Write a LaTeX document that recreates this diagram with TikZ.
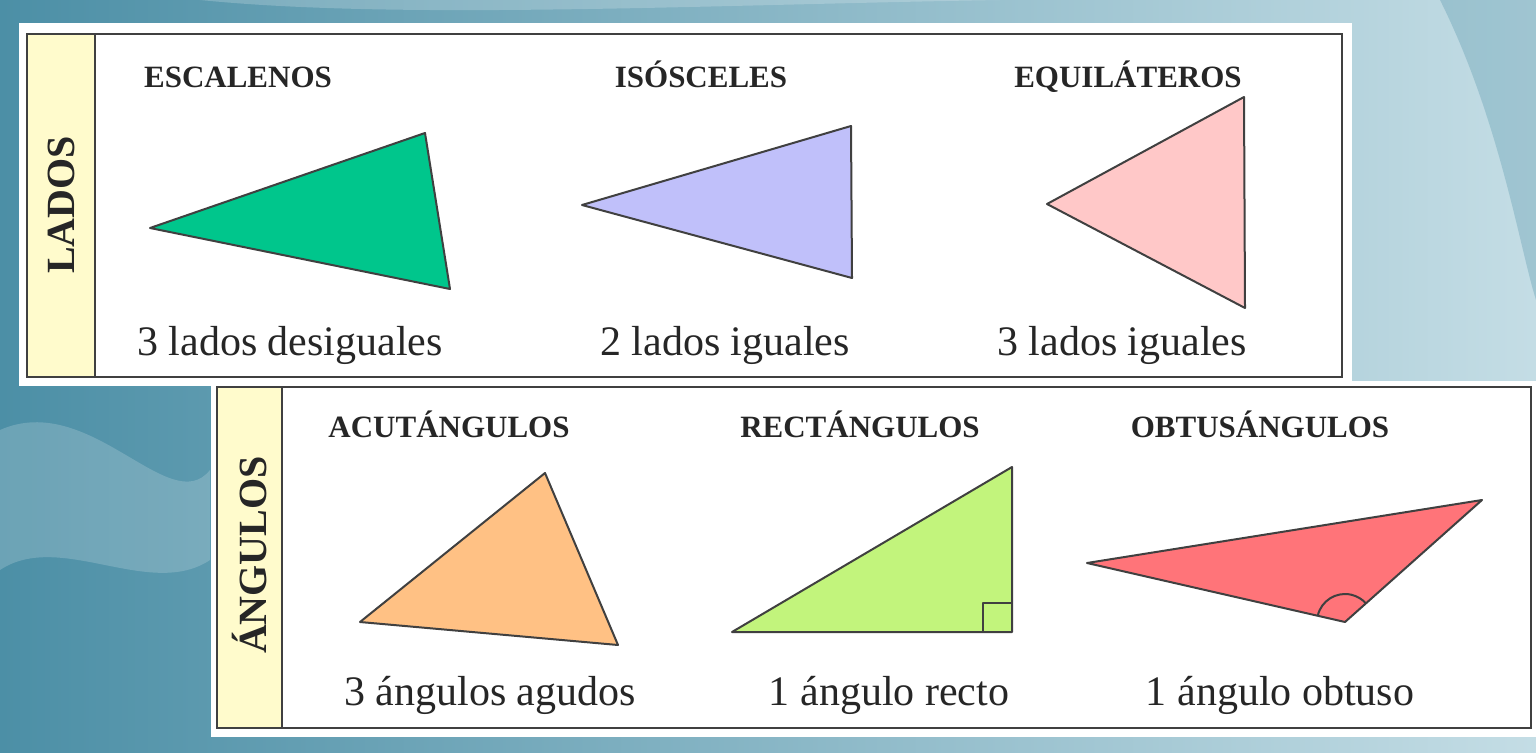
\documentclass[tikz,border=0pt]{standalone}
\usepackage{fontspec}
\setmainfont{Liberation Serif}
\definecolor{bgdark}{HTML}{4C8FA6}
\definecolor{bgmid}{HTML}{8DBFCD}
\definecolor{bglight}{HTML}{C4DDE5}
\definecolor{sidebar}{HTML}{FFFBCC}
\definecolor{escgreen}{HTML}{00C68C}
\definecolor{isolila}{HTML}{C0C0FA}
\definecolor{equipink}{HTML}{FFC8C8}
\definecolor{acuorange}{HTML}{FFC184}
\definecolor{rectgreen}{HTML}{C2F47C}
\definecolor{obtred}{HTML}{FF7479}

\begin{document}
\begin{tikzpicture}[x=1pt,y=-1pt,
  head/.style={font=\bfseries\fontsize{31}{31}\selectfont, text=black!85, inner sep=0pt, anchor=base},
  caption/.style={font=\fontsize{42}{42}\selectfont, text=black!85, inner sep=0pt, anchor=base},
  side/.style={font=\bfseries\fontsize{40}{40}\selectfont, text=black!85, inner sep=0pt, rotate=90},
  frame/.style={draw=black!75, line width=2.5pt},
  tri/.style={draw=black!75, line width=2pt, line join=round}]
\useasboundingbox (0,0) rectangle (1536,752);

% background
\shade[left color=bgdark, middle color=bgmid, right color=bglight] (0,0) rectangle (1536,752);
\fill[white, opacity=.18] (0,430) .. controls (90,390) and (170,520) .. (210,470) -- (210,560) .. controls (150,600) and (60,530) .. (0,570) -- cycle;
\fill[white, opacity=.2] (200,0) .. controls (400,20) and (700,5) .. (1000,0) -- cycle;
\fill[bgdark, opacity=.3] (1440,0) .. controls (1500,120) and (1520,250) .. (1536,300) -- (1536,0) -- cycle;

% top panel: lados
\fill[white] (19,23) rectangle (1352,386);
\fill[sidebar] (27,34) rectangle (95,377);
\draw[frame] (27,34) rectangle (1342,377);
\draw[frame] (95,34) -- (95,377);
\node[side] (lados) at (61,205) {LADOS};

\node[head] (hEsc) at (238,88) {ESCALENOS};
\node[head] (hIso) at (701,88) {ISÓSCELES};
\node[head] (hEqu) at (1128,88) {EQUILÁTEROS};

\coordinate (esc1) at (150,228);
\coordinate (esc2) at (425,133);
\coordinate (esc3) at (450,289);
\draw[tri, fill=escgreen] (esc1) -- (esc2) -- (esc3) -- cycle;

\coordinate (iso1) at (582,205);
\coordinate (iso2) at (851,126);
\coordinate (iso3) at (852,278);
\draw[tri, fill=isolila] (iso1) -- (iso2) -- (iso3) -- cycle;

\coordinate (equ1) at (1047,204);
\coordinate (equ2) at (1244,97);
\coordinate (equ3) at (1245,308);
\draw[tri, fill=equipink] (equ1) -- (equ2) -- (equ3) -- cycle;

\node[caption] (cEsc) at (290,355) {3 lados desiguales};
\node[caption] (cIso) at (725,355) {2 lados iguales};
\node[caption] (cEqu) at (1122,355) {3 lados iguales};

% bottom panel: angulos
\fill[white] (211,381) rectangle (1536,737);
\fill[sidebar] (217,387) rectangle (282,728);
\draw[frame] (217,387) rectangle (1531,728);
\draw[frame] (282,387) -- (282,728);
\node[side] (angulos) at (250,555) {ÁNGULOS};

\node[head] (hAcu) at (449,437) {ACUTÁNGULOS};
\node[head] (hRec) at (860,437) {RECTÁNGULOS};
\node[head] (hObt) at (1260,437) {OBTUSÁNGULOS};

\coordinate (acu1) at (360,622);
\coordinate (acu2) at (545,473);
\coordinate (acu3) at (618,645);
\draw[tri, fill=acuorange] (acu1) -- (acu2) -- (acu3) -- cycle;

\coordinate (rec1) at (732,632);
\coordinate (rec2) at (1012,467);
\coordinate (rec3) at (1012,632);
\draw[tri, fill=rectgreen] (rec1) -- (rec2) -- (rec3) -- cycle;
\draw[tri] (983,632) -- (983,603) -- (1012,603);

\coordinate (obt1) at (1087,563);
\coordinate (obt2) at (1482,500);
\coordinate (obt3) at (1345,622);
\draw[tri, fill=obtred] (obt1) -- (obt2) -- (obt3) -- cycle;
\draw[tri] ([shift={(167:28pt)}]obt3) arc[start angle=167, end angle=42, radius=28pt];

\node[caption] (cAcu) at (490,705) {3 ángulos agudos};
\node[caption] (cRec) at (889,705) {1 ángulo recto};
\node[caption] (cObt) at (1280,705) {1 ángulo obtuso};
\end{tikzpicture}
\end{document}
